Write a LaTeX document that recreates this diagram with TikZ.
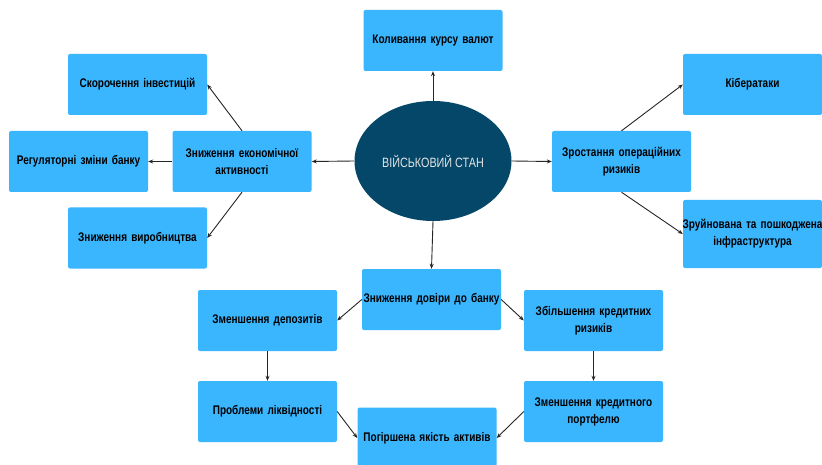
\documentclass[tikz,border=0pt]{standalone}
\usepackage{fontspec}
\setmainfont{Liberation Sans}[FakeStretch=0.8]
\usepackage{xcolor}
\usetikzlibrary{arrows.meta,shapes.geometric}

\definecolor{boxblue}{RGB}{58,182,255}
\definecolor{stanblue}{RGB}{4,71,104}

\tikzset{
  box/.style={fill=boxblue, rounded corners=2pt, minimum width=139pt,
    minimum height=61pt, text width=137pt, align=center, inner sep=0pt,
    font=\fontsize{12.5}{17}\selectfont\bfseries},
  arr/.style={-{Stealth[length=5pt,width=4pt]}, line width=0.9pt, black!85}
}

\begin{document}
\begin{tikzpicture}[x=1pt,y=-1pt]
  \useasboundingbox[fill=white] (0,0) rectangle (822,465);

  \node[ellipse, fill=stanblue, minimum width=157pt, minimum height=120pt,
    inner sep=0pt, text=white!90!black, font=\fontsize{13.5}{15}\selectfont]
    (stan) at (433,161) {ВІЙСЬКОВИЙ СТАН};

  \node[box] (kurs) at (433,40.5) {Коливання курсу валют};
  \node[box] (ekon) at (242,161.5) {Зниження економічної\\активності};
  \node[box] (skor) at (137.5,84.5) {Скорочення інвестицій};
  \node[box] (rehul) at (78.5,161.5) {Регуляторні зміни банку};
  \node[box] (vyrob) at (137.5,238) {Зниження виробництва};
  \node[box] (oper) at (621.5,161.5) {Зростання операційних\\ризиків};
  \node[box] (kiber) at (752.5,84.5) {Кібератаки};
  \node[box, minimum height=68pt] (zruin) at (752.5,234)
    {\makebox[137pt]{Зруйнована та пошкоджена}\\інфраструктура};
  \node[box] (dovir) at (431.5,299.5) {Зниження довіри до банку};
  \node[box] (depoz) at (267.5,320.5) {Зменшення депозитів};
  \node[box] (kredyt) at (593.5,320.5) {Збільшення кредитних\\ризиків};
  \node[box] (likv) at (267.5,411.5) {Проблеми ліквідності};
  \node[box] (portf) at (593.5,411.5) {Зменшення кредитного\\портфелю};
  \node[box] (pohir) at (427,438) {Погіршена якість активів};

  \foreach \a/\b in {stan.north/kurs.south, stan.west/ekon.east,
      stan.east/oper.west, stan.south/dovir.north,
      ekon.north/skor.east, ekon.west/rehul.east, ekon.south/vyrob.east,
      oper.north/kiber.west, oper.south/zruin.west,
      dovir.west/depoz.east, dovir.east/kredyt.west,
      depoz.south/likv.north, kredyt.south/portf.north,
      likv.east/pohir.west, portf.west/pohir.east} {
    \draw[arr] (\a) -- (\b);
  }
\end{tikzpicture}
\end{document}
